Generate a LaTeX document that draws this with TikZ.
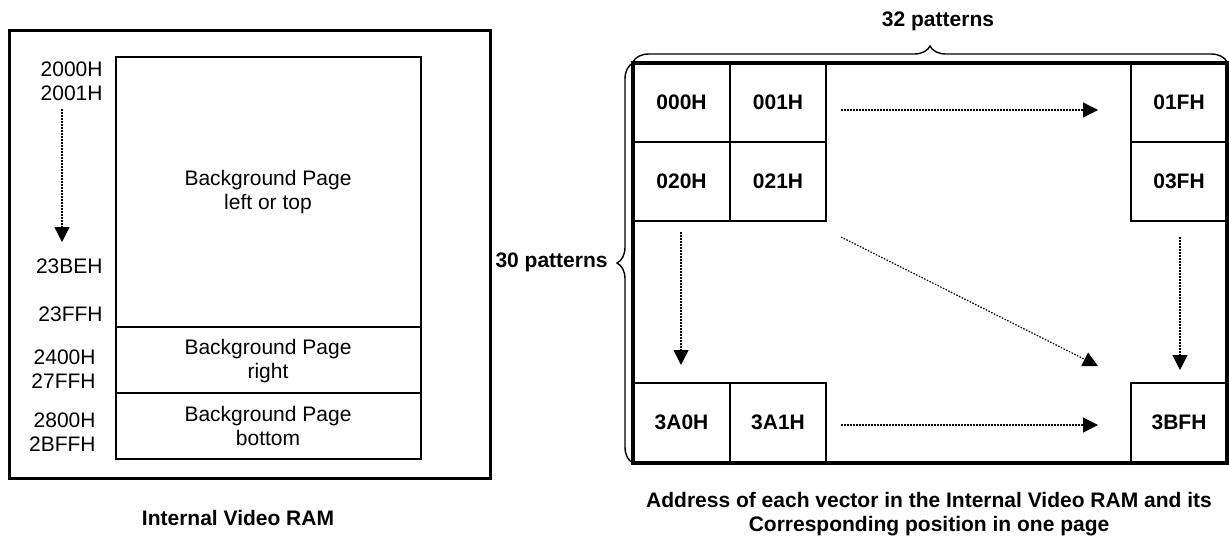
\documentclass[tikz,border=0pt]{standalone}
\usepackage{fontspec}
\setmainfont{Liberation Sans}
\usetikzlibrary{arrows.meta,decorations.pathreplacing}
\tikzset{
  lbl/.style={font=\fontsize{10.5}{12}\selectfont, inner sep=0pt, align=center},
  addr/.style={lbl, anchor=east, align=right},
  cell/.style={draw, line width=1pt, minimum width=48pt, minimum height=39.5pt,
    font=\fontsize{10.5}{12}\selectfont\bfseries, inner sep=0pt},
  flow/.style={line width=0.6pt, dash pattern=on 0.75pt off 0.75pt,
    -{Triangle[width=7.5pt,length=7.5pt,sep=0pt]}},
  brc/.style={decorate, decoration={brace, amplitude=8pt}, line width=0.7pt}
}
\begin{document}
\begin{tikzpicture}[x=0.5pt,y=-0.5pt]
      \useasboundingbox (0,0) rectangle (1229,541);
      % internal video RAM
      \draw[line width=1.5pt] (9,30) rectangle (490,478);
      \draw[line width=1.1pt] (116,57) rectangle (421,459);
      \draw[line width=1.1pt] (116,327) -- (421,327);
      \draw[line width=1.1pt] (116,393) -- (421,393);
      \draw
        (268,192) node[lbl] (bgtop){Background Page\\left or top}
        (268,361) node[lbl] (bgright){Background Page\\right}
        (268,426) node[lbl] (bgbot){Background Page\\bottom}
        (103,81) node[addr] (a2000){2000H\\2001H}
        (103,266) node[addr] (a23be){23BEH}
        (103,314) node[addr] (a23ff){23FFH}
        (96,369) node[addr] (a2400){2400H\\27FFH}
        (96,432) node[addr] (a2800){2800H\\2BFFH}
        (238,518) node[lbl, font=\fontsize{10.5}{12}\selectfont\bfseries] (ram){Internal Video RAM};
      \coordinate (s0) at (62,109);
      \coordinate (e0) at (62,242);
      \draw[flow] (s0) -- (e0);
      % one page
      \draw[line width=1.6pt] (633,63) rectangle (1227,463);
      \draw
        (681.5,102) node[cell] (c000){000H}
        (778,102) node[cell] (c001){001H}
        (1179,102) node[cell] (c01f){01FH}
        (681.5,181) node[cell] (c020){020H}
        (778,181) node[cell] (c021){021H}
        (1179,181) node[cell] (c03f){03FH}
        (681.5,422.5) node[cell] (c3a0){3A0H}
        (778,422.5) node[cell] (c3a1){3A1H}
        (1179,422.5) node[cell] (c3bf){3BFH};
      \coordinate (s1) at (841,110);
      \coordinate (e1) at (1098,110);
      \coordinate (s2) at (681,232);
      \coordinate (e2) at (681,365);
      \coordinate (s3) at (841,237);
      \coordinate (e3) at (1098,366);
      \coordinate (s4) at (1180,237);
      \coordinate (e4) at (1180,370);
      \coordinate (s5) at (841,425);
      \coordinate (e5) at (1098,425);
      \begin{scope}[flow]
        \draw (s1) to (e1);
        \draw (s2) to (e2);
        \draw (s3) to (e3);
        \draw (s4) to (e4);
        \draw (s5) to (e5);
      \end{scope}
      \draw[brc] (633,62) -- (1227,62);
      \draw[brc] (633,463) -- (633,63);
      \draw
        (938,21) node[lbl, font=\fontsize{10.5}{12}\selectfont\bfseries] (cols){32 patterns}
        (608,262) node[lbl, anchor=east, font=\fontsize{10.5}{12}\selectfont\bfseries] (rows){30 patterns}
        (929,514) node[lbl, font=\fontsize{10.5}{12}\selectfont\bfseries] (caption){Address of each vector in the Internal Video RAM and its\\Corresponding position in one page};
    \end{tikzpicture}
\end{document}
